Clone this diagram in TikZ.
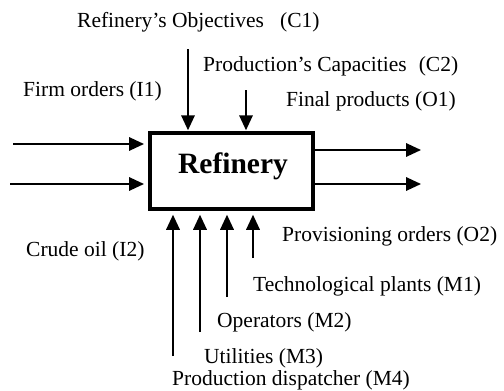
\documentclass[tikz,border=0pt]{standalone}
\usepackage{fontspec}
\setmainfont{Liberation Serif}
\usetikzlibrary{arrows.meta}
\tikzset{
  arr/.style={line width=1.8pt,-{Triangle[length=15pt,width=13.5pt]}},
  lbl/.style={inner sep=0pt,anchor=west,font=\fontsize{21.5}{24}\selectfont},
  procbox/.style={draw,line width=3.5pt,minimum width=163pt,minimum height=76pt,inner sep=0pt}
}
\begin{document}
\begin{tikzpicture}[x=1pt,y=-1pt]
\useasboundingbox (0,0) rectangle (504,391);
\node[procbox] (ref) at (231.5,171) {};
\node[inner sep=0pt,anchor=base,font=\fontsize{29.5}{32}\selectfont\bfseries] (reft) at (233,173) {Refinery};
% labels
\node[lbl] (c1l) at (77,22.5) {Refinery’s Objectives\hspace{16pt}(C1)};
\node[lbl] (c2l) at (203,66) {Production’s Capacities\hspace{12pt}(C2)};
\node[lbl] (i1l) at (23,91.5) {Firm orders (I1)};
\node[lbl] (o1l) at (286,101) {Final products (O1)};
\node[lbl] (i2l) at (26,251) {Crude oil (I2)};
\node[lbl] (o2l) at (282,236) {Provisioning orders (O2)};
\node[lbl] (m1l) at (253,286) {Technological plants (M1)};
\node[lbl] (m2l) at (217,322) {Operators (M2)};
\node[lbl] (m3l) at (204,358) {Utilities (M3)};
\node[lbl] (m4l) at (172,380) {Production dispatcher (M4)};
% arrow ends
\coordinate (i1s) at (13,144);
\coordinate (i1e) at (144,144);
\coordinate (i2s) at (10,184);
\coordinate (i2e) at (144,184);
\coordinate (o1e) at (421,150);
\coordinate (o2e) at (421,184);
\coordinate (c1s) at (188,49);
\coordinate (c2s) at (246,90);
\coordinate (m1s) at (253,258);
\coordinate (m2s) at (227,297);
\coordinate (m3s) at (200,332);
\coordinate (m4s) at (173,356);
\draw[arr] (i1s) -- (i1e);
\draw[arr] (i2s) -- (i2e);
\draw[arr] (o1e -| ref.east) -- (o1e);
\draw[arr] (o2e -| ref.east) -- (o2e);
\draw[arr,shorten >=1pt] (c1s) -- (c1s |- ref.north);
\draw[arr,shorten >=1pt] (c2s) -- (c2s |- ref.north);
\draw[arr,shorten >=4pt] (m1s) -- (m1s |- ref.south);
\draw[arr,shorten >=4pt] (m2s) -- (m2s |- ref.south);
\draw[arr,shorten >=4pt] (m3s) -- (m3s |- ref.south);
\draw[arr,shorten >=4pt] (m4s) -- (m4s |- ref.south);
\end{tikzpicture}
\end{document}
